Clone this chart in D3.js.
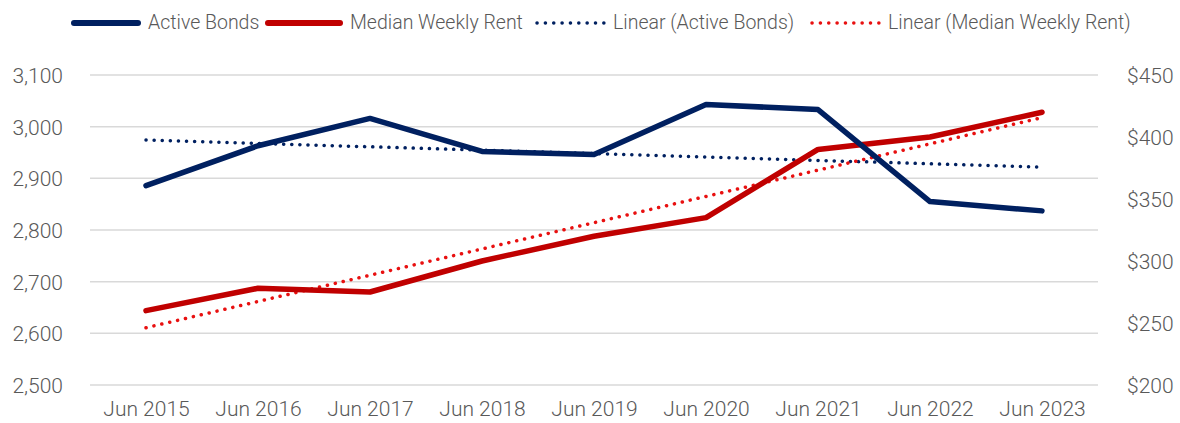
<!DOCTYPE html>
<html>
<head>
<meta charset="utf-8">
<script src="https://cdn.jsdelivr.net/npm/d3@7/dist/d3.min.js"></script>
<style>
  body { margin: 0; background: #fff; }
  text { font-family: Roboto, "Noto Sans", sans-serif; font-weight: 300; fill: #595959; }
</style>
</head>
<body>
<div id="chart"></div>
<script>
const categories = ['Jun 2015', 'Jun 2016', 'Jun 2017', 'Jun 2018', 'Jun 2019', 'Jun 2020', 'Jun 2021', 'Jun 2022', 'Jun 2023'];
const activeBonds = [2886, 2963, 3016, 2952, 2946, 3043, 3033, 2855, 2837];
const weeklyRent = [260, 278, 275, 300, 320, 335, 390, 400, 420];
const leftTicks = [2500, 2600, 2700, 2800, 2900, 3000, 3100];
const rightTicks = [200, 250, 300, 350, 400, 450];

const NAVY = '#002060', RED = '#C00000', RED_TREND = '#E81010';

const W = 1180, H = 423;
const margin = { top: 75, right: 82, bottom: 38, left: 90 };

// least squares fit, the way a spreadsheet trendline does it
function linearFit(values) {
  const n = values.length;
  const mx = (n - 1) / 2;
  const my = d3.mean(values);
  let num = 0, den = 0;
  values.forEach(function (v, i) {
    num += (i - mx) * (v - my);
    den += (i - mx) * (i - mx);
  });
  const slope = num / den;
  return values.map(function (v, i) { return my + slope * (i - mx); });
}

const svg = d3.select('#chart').append('svg')
  .attr('width', W).attr('height', H);

const x = d3.scalePoint().domain(categories)
  .range([margin.left, W - margin.right]).padding(0.5);
const yL = d3.scaleLinear().domain([2500, 3100])
  .range([H - margin.bottom, margin.top]);
const yR = d3.scaleLinear().domain([200, 450])
  .range([H - margin.bottom, margin.top]);

// gridlines
svg.append('g').selectAll('line').data(leftTicks).enter().append('line')
  .attr('x1', margin.left).attr('x2', W - margin.right)
  .attr('y1', d => yL(d)).attr('y2', d => yL(d))
  .attr('stroke', '#D9D9D9').attr('stroke-width', 1.5);

// left axis
const axL = svg.append('g').attr('transform', 'translate(' + (margin.left - 24) + ',0)')
  .call(d3.axisLeft(yL).tickValues(leftTicks).tickFormat(d3.format(',')).tickSize(0));
axL.select('.domain').remove();
axL.selectAll('text').attr('font-size', 21).attr('dy', '0.35em');

// right axis
const axR = svg.append('g').attr('transform', 'translate(' + (W - margin.right + 26) + ',0)')
  .call(d3.axisRight(yR).tickValues(rightTicks).tickFormat(d => '$' + d).tickSize(0));
axR.select('.domain').remove();
axR.selectAll('text').attr('font-size', 21).attr('dy', '0.35em');

// bottom axis
const axB = svg.append('g').attr('transform', 'translate(0,' + (H - margin.bottom + 13) + ')')
  .call(d3.axisBottom(x).tickSize(0));
axB.select('.domain').remove();
axB.selectAll('text').attr('font-size', 21).attr('dy', '0.71em');

const lineL = d3.line().x((d, i) => x(categories[i])).y(d => yL(d));
const lineR = d3.line().x((d, i) => x(categories[i])).y(d => yR(d));

// trendlines
svg.append('path').datum(linearFit(activeBonds)).attr('d', lineL)
  .attr('fill', 'none').attr('stroke', NAVY).attr('stroke-width', 3.5)
  .attr('stroke-linecap', 'round').attr('stroke-dasharray', '0.1 8');
svg.append('path').datum(linearFit(weeklyRent)).attr('d', lineR)
  .attr('fill', 'none').attr('stroke', RED_TREND).attr('stroke-width', 3.5)
  .attr('stroke-linecap', 'round').attr('stroke-dasharray', '0.1 8');

// series
svg.append('path').datum(weeklyRent).attr('d', lineR)
  .attr('fill', 'none').attr('stroke', RED).attr('stroke-width', 5.5)
  .attr('stroke-linecap', 'round').attr('stroke-linejoin', 'round');
svg.append('path').datum(activeBonds).attr('d', lineL)
  .attr('fill', 'none').attr('stroke', NAVY).attr('stroke-width', 5.5)
  .attr('stroke-linecap', 'round').attr('stroke-linejoin', 'round');

// legend
const legendItems = [
  { label: 'Active Bonds', color: NAVY, dotted: false, x0: 74, x1: 138, tx: 148 },
  { label: 'Median Weekly Rent', color: RED, dotted: false, x0: 268, x1: 340, tx: 350 },
  { label: 'Linear (Active Bonds)', color: NAVY, dotted: true, x0: 537, x1: 604, tx: 613 },
  { label: 'Linear (Median Weekly Rent)', color: RED_TREND, dotted: true, x0: 812, x1: 879, tx: 888 }
];
const lg = svg.append('g').selectAll('g').data(legendItems).enter().append('g');
lg.append('line').attr('x1', d => d.x0).attr('x2', d => d.x1)
  .attr('y1', 23).attr('y2', 23)
  .attr('stroke', d => d.color)
  .attr('stroke-width', d => d.dotted ? 3.5 : 6)
  .attr('stroke-linecap', 'round')
  .attr('stroke-dasharray', d => d.dotted ? '0.1 8.25' : null);
lg.append('text').attr('x', d => d.tx).attr('y', 29)
  .attr('font-size', 19.5).text(d => d.label);
</script>
</body>
</html>
